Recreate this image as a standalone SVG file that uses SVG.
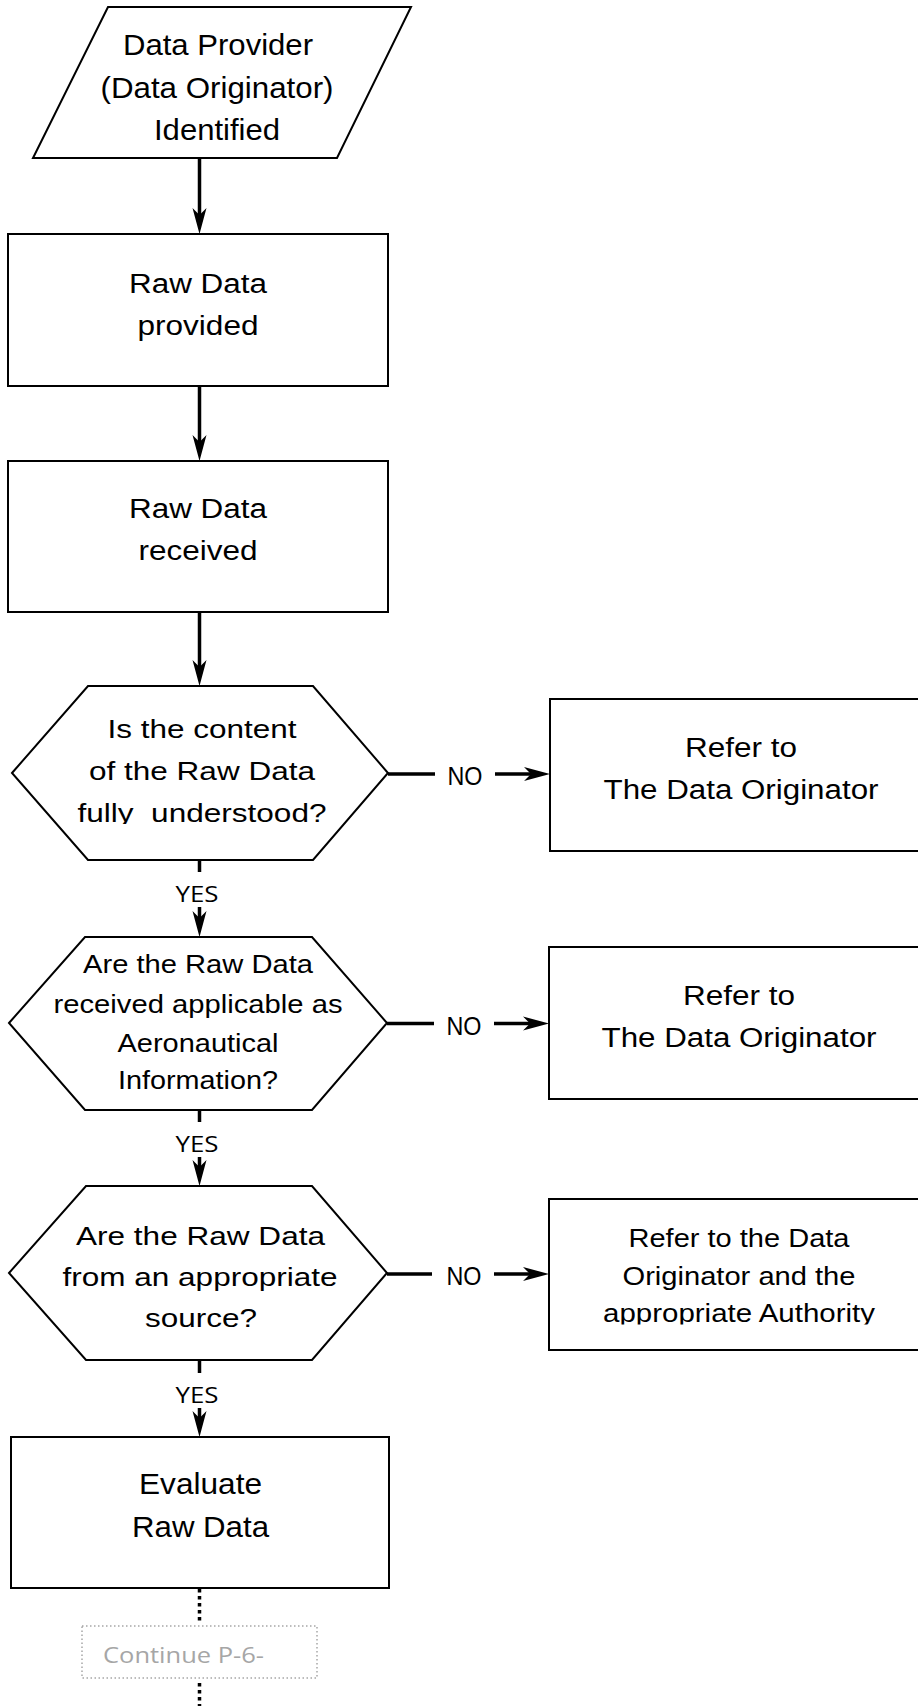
<svg xmlns="http://www.w3.org/2000/svg" width="918" height="1706" viewBox="0 0 918 1706">
<style>
.n{fill:#fff;stroke:#000;stroke-width:2}
.t{font-family:"Liberation Sans",Arial,sans-serif;fill:#000;text-anchor:middle}
.c{stroke:#000;stroke-width:3.5;fill:none}
.d{stroke:#000;stroke-width:3.5;stroke-dasharray:3.5 3.5;fill:none}
.y{font-family:"Open Sans",sans-serif;font-size:22px;fill:#000;text-anchor:middle}
.no{font-family:"Liberation Sans",Arial,sans-serif;font-size:25px;fill:#000;text-anchor:middle}
</style>
<defs>
<marker id="ah" markerUnits="userSpaceOnUse" markerWidth="26" markerHeight="16" viewBox="0 0 26 16" refX="16" refY="8" orient="auto">
<path d="M0,1 L26,8 L0,15 L7,8 Z" fill="#000"/>
</marker>
<clipPath id="clipH1"><rect x="0" y="600" width="400" height="224"/></clipPath>
<clipPath id="clipR3"><rect x="540" y="1190" width="378" height="134.5"/></clipPath>
</defs>
<rect width="918" height="1706" fill="#fff"/>

<g id="connectors">
<line class="c" x1="199.5" y1="158" x2="199.5" y2="224" marker-end="url(#ah)"/>
<line class="c" x1="199.5" y1="386" x2="199.5" y2="451" marker-end="url(#ah)"/>
<line class="c" x1="199.5" y1="612" x2="199.5" y2="676" marker-end="url(#ah)"/>
<line class="c" x1="199.5" y1="860" x2="199.5" y2="872"/>
<text class="y" x="197" y="902" textLength="43" lengthAdjust="spacingAndGlyphs">YES</text>
<line class="c" x1="199.5" y1="907" x2="199.5" y2="927" marker-end="url(#ah)"/>
<line class="c" x1="199.5" y1="1110" x2="199.5" y2="1122"/>
<text class="y" x="197" y="1152" textLength="43" lengthAdjust="spacingAndGlyphs">YES</text>
<line class="c" x1="199.5" y1="1157" x2="199.5" y2="1176" marker-end="url(#ah)"/>
<line class="c" x1="199.5" y1="1360" x2="199.5" y2="1373"/>
<text class="y" x="197" y="1403" textLength="43" lengthAdjust="spacingAndGlyphs">YES</text>
<line class="c" x1="199.5" y1="1408" x2="199.5" y2="1427" marker-end="url(#ah)"/>
<line class="c" x1="388" y1="774" x2="435" y2="774"/>
<text class="no" x="465" y="785" textLength="35" lengthAdjust="spacingAndGlyphs">NO</text>
<line class="c" x1="495" y1="774" x2="540" y2="774" marker-end="url(#ah)"/>
<line class="c" x1="387" y1="1023.5" x2="434" y2="1023.5"/>
<text class="no" x="464" y="1034.5" textLength="35" lengthAdjust="spacingAndGlyphs">NO</text>
<line class="c" x1="494" y1="1023.5" x2="539" y2="1023.5" marker-end="url(#ah)"/>
<line class="c" x1="387" y1="1274" x2="432" y2="1274"/>
<text class="no" x="464" y="1285" textLength="35" lengthAdjust="spacingAndGlyphs">NO</text>
<line class="c" x1="494" y1="1274" x2="539" y2="1274" marker-end="url(#ah)"/>
<line class="d" x1="199.5" y1="1589" x2="199.5" y2="1624"/>
<line class="d" x1="199.5" y1="1683" x2="199.5" y2="1706"/>
</g>

<g id="start">
<polygon class="n" points="108,7 411,7 337,158 33,158"/>
<text class="t" font-size="30" x="218" y="55" textLength="190" lengthAdjust="spacingAndGlyphs">Data Provider</text>
<text class="t" font-size="30" x="217" y="98" textLength="233" lengthAdjust="spacingAndGlyphs">(Data Originator)</text>
<text class="t" font-size="30" x="217" y="140" textLength="126" lengthAdjust="spacingAndGlyphs">Identified</text>
</g>

<g id="provided">
<rect class="n" x="8" y="234" width="380" height="152"/>
<text class="t" font-size="27" x="198" y="293" textLength="138" lengthAdjust="spacingAndGlyphs">Raw Data</text>
<text class="t" font-size="27" x="198" y="335" textLength="121" lengthAdjust="spacingAndGlyphs">provided</text>
</g>

<g id="received">
<rect class="n" x="8" y="461" width="380" height="151"/>
<text class="t" font-size="27" x="198" y="518" textLength="138" lengthAdjust="spacingAndGlyphs">Raw Data</text>
<text class="t" font-size="27" x="198" y="560" textLength="119" lengthAdjust="spacingAndGlyphs">received</text>
</g>

<g id="q1">
<polygon class="n" points="12,773 88,686 313,686 388,773 313,860 88,860"/>
<text class="t" font-size="26.5" x="202" y="738" textLength="189" lengthAdjust="spacingAndGlyphs">Is the content</text>
<text class="t" font-size="26.5" x="202" y="780" textLength="226" lengthAdjust="spacingAndGlyphs">of the Raw Data</text>
<text class="t" font-size="26.5" x="202" y="821.5" textLength="249" lengthAdjust="spacingAndGlyphs" xml:space="preserve" clip-path="url(#clipH1)">fully  understood?</text>
</g>

<g id="refer1">
<rect class="n" x="550" y="699" width="380" height="152"/>
<text class="t" font-size="27" x="741" y="757" textLength="112" lengthAdjust="spacingAndGlyphs">Refer to</text>
<text class="t" font-size="27" x="741" y="799" textLength="275" lengthAdjust="spacingAndGlyphs">The Data Originator</text>
</g>

<g id="q2">
<polygon class="n" points="9,1023 85,937 312,937 387,1023 312,1110 85,1110"/>
<text class="t" font-size="25.6" x="198" y="973" textLength="230" lengthAdjust="spacingAndGlyphs">Are the Raw Data</text>
<text class="t" font-size="25.6" x="198" y="1013" textLength="289" lengthAdjust="spacingAndGlyphs">received applicable as</text>
<text class="t" font-size="25.6" x="198" y="1052" textLength="161" lengthAdjust="spacingAndGlyphs">Aeronautical</text>
<text class="t" font-size="25.6" x="198" y="1089" textLength="160" lengthAdjust="spacingAndGlyphs">Information?</text>
</g>

<g id="refer2">
<rect class="n" x="549" y="947" width="380" height="152"/>
<text class="t" font-size="27" x="739" y="1005" textLength="112" lengthAdjust="spacingAndGlyphs">Refer to</text>
<text class="t" font-size="27" x="739" y="1047" textLength="275" lengthAdjust="spacingAndGlyphs">The Data Originator</text>
</g>

<g id="q3">
<polygon class="n" points="9,1273 86,1186 312,1186 387,1273 312,1360 86,1360"/>
<text class="t" font-size="25.6" x="200.5" y="1245" textLength="249" lengthAdjust="spacingAndGlyphs">Are the Raw Data</text>
<text class="t" font-size="25.6" x="200" y="1286" textLength="275" lengthAdjust="spacingAndGlyphs">from an appropriate</text>
<text class="t" font-size="25.6" x="201" y="1327" textLength="112" lengthAdjust="spacingAndGlyphs">source?</text>
</g>

<g id="refer3">
<rect class="n" x="549" y="1199" width="380" height="151"/>
<text class="t" font-size="25.6" x="739" y="1247" textLength="221" lengthAdjust="spacingAndGlyphs">Refer to the Data</text>
<text class="t" font-size="25.6" x="739" y="1285" textLength="233" lengthAdjust="spacingAndGlyphs">Originator and the</text>
<text class="t" font-size="25.6" x="739" y="1322" textLength="272" lengthAdjust="spacingAndGlyphs" clip-path="url(#clipR3)">appropriate Authority</text>
</g>

<g id="evaluate">
<rect class="n" x="11" y="1437" width="378" height="151"/>
<text class="t" font-size="29" x="200.5" y="1494" textLength="123" lengthAdjust="spacingAndGlyphs">Evaluate</text>
<text class="t" font-size="29" x="200.5" y="1537" textLength="137" lengthAdjust="spacingAndGlyphs">Raw Data</text>
</g>

<g id="continue">
<rect x="82" y="1626" width="235" height="52" fill="none" stroke="#a6a6a6" stroke-width="1.5" stroke-dasharray="1.5 2.5"/>
<text x="183.5" y="1663" font-family="'Open Sans',sans-serif" font-size="21" fill="#a6a6a6" text-anchor="middle" textLength="161" lengthAdjust="spacingAndGlyphs">Continue P-6-</text>
</g>
</svg>
